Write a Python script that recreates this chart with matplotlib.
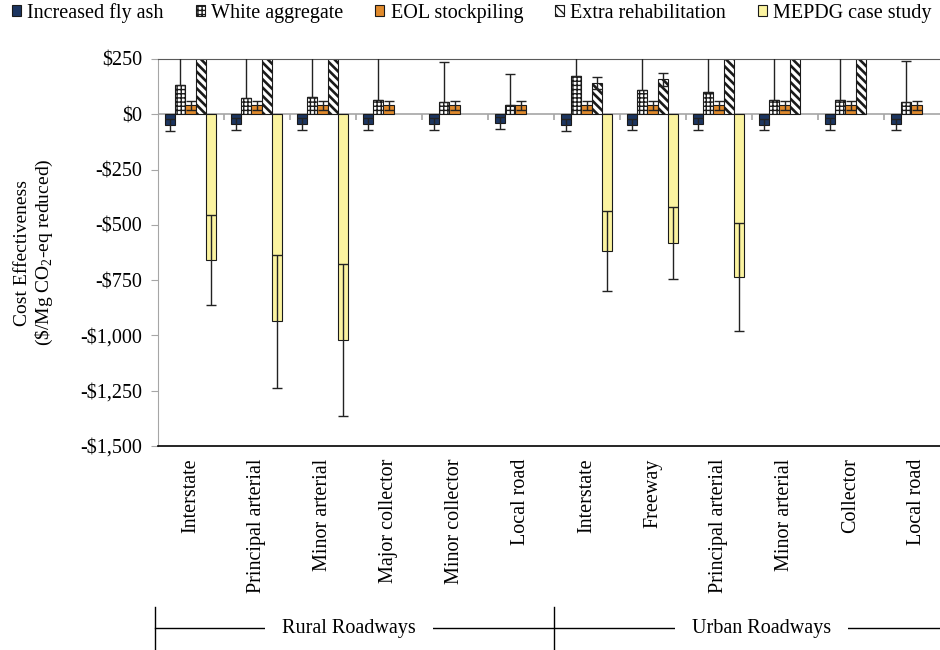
import numpy as np
import matplotlib
matplotlib.use("Agg")
import matplotlib.pyplot as plt
from matplotlib.patches import Patch
from matplotlib.lines import Line2D
from matplotlib.transforms import blended_transform_factory

plt.rcParams['font.family'] = ['Liberation Serif', 'DejaVu Serif']
plt.rcParams['font.size'] = 14.5

nan = np.nan

# road types, rural first then urban
categories = ['Interstate', 'Principal arterial', 'Minor arterial', 'Major collector',
              'Minor collector', 'Local road',
              'Interstate', 'Freeway', 'Principal arterial', 'Minor arterial',
              'Collector', 'Local road']
groups = ['Rural Roadways', 'Urban Roadways']
series = ['Increased fly ash', 'White aggregate', 'EOL stockpiling',
          'Extra rehabilitation', 'MEPDG case study']

# $/Mg CO2-eq reduced (values above $250 are cut off in the figure)
fly_ash = [-48, -46, -45, -45, -45, -39, -48, -47, -45, -47, -45, -46]
fly_ash_err = [27, 27, 26, 27, 26, 27, 27, 25, 28, 26, 26, 25]
white_agg = [134, 72, 80, 66, 54, 44, 171, 108, 99, 66, 66, 54]
white_agg_err = [420, 420, 420, 420, 181, 140, 420, 420, 420, 420, 420, 187]
eol = [41, 41, 41, 41, 41, 41, 41, 41, 41, 41, 41, 41]
eol_err = [20, 20, 20, 20, 20, 20, 20, 20, 20, 20, 20, 20]
extra_rehab = [900, 900, 900, nan, nan, nan, 141, 158, 900, 900, 900, nan]
extra_rehab_err = [150, 150, 150, nan, nan, nan, 28, 30, 150, 150, 150, nan]
mepdg = [-660, -937, -1020, nan, nan, nan, -618, -582, -734, nan, nan, nan]
mepdg_err = [203, 301, 345, nan, nan, nan, 180, 164, 244, nan, nan, nan]

values = [fly_ash, white_agg, eol, extra_rehab, mepdg]
errors = [fly_ash_err, white_agg_err, eol_err, extra_rehab_err, mepdg_err]
# white aggregate only shows the plus side of its error bar
plus_only = [False, True, False, False, False]
colors = ['#1c3560', 'white', '#e08a2c', 'white', '#fbf3a0']
hatches = [None, '++++', None, '\\\\\\\\', None]
hatch_lw = [1.0, 1.0, 1.0, 1.9, 1.0]

fig = plt.figure(figsize=(9.4, 6.5), dpi=100)
ax = fig.add_axes([157.5 / 940, 1 - 446 / 650, 792 / 940, (446 - 59) / 650])

x = np.arange(len(categories))
w = 0.155
step = 0.158
handles = []
for i, (vals, errs) in enumerate(zip(values, errors)):
    pos = x + (i - 2) * step
    with plt.rc_context({'hatch.linewidth': hatch_lw[i]}):
        ax.bar(pos, vals, width=w, color=colors[i], edgecolor='#1a1a1a',
               linewidth=0.8, hatch=hatches[i], zorder=2)
        handles.append(Patch(facecolor=colors[i], edgecolor='#1a1a1a',
                             linewidth=0.8, hatch=hatches[i], label=series[i]))
    errs = np.array(errs, dtype=float)
    if plus_only[i]:
        yerr = [np.zeros_like(errs), errs]
    else:
        yerr = errs
    ax.errorbar(pos, vals, yerr=yerr, fmt='none', ecolor='#222222',
                elinewidth=1, capsize=3.6, capthick=1, zorder=3)

ax.set_xlim(-0.5, len(categories) - 0.5)
ax.set_ylim(-1500, 250)

# zero line with category tick marks
ax.axhline(0, color='#a6a6a6', lw=1.2, zorder=1)
bounds = np.arange(len(categories) + 1) - 0.5
ax.vlines(bounds, -27, 0, color='#a6a6a6', lw=1.2, zorder=1)

yt = np.arange(-1500, 251, 250)
ax.set_yticks(yt)
ax.set_yticklabels([('-' if v < 0 else '') + '${:,}'.format(abs(v)) for v in yt])
ax.tick_params(axis='y', length=5, color='#a6a6a6', pad=6)
ax.set_xticks(x)
ax.set_xticklabels(categories, rotation=90, va='top', ha='center')
ax.tick_params(axis='x', length=0, pad=9)

ax.spines['left'].set_color('#a6a6a6')
ax.spines['top'].set_color('#595959')
ax.spines['right'].set_visible(False)
ax.spines['bottom'].set_color('black')
ax.spines['bottom'].set_linewidth(1.2)

ax.set_ylabel('Cost Effectiveness\n(\\$/Mg CO$_\\mathregular{2}$-eq reduced)',
              fontsize=14, labelpad=18, linespacing=1.2)

# group labels under the category names
tr = blended_transform_factory(ax.transData, fig.transFigure)
y_line = 1 - 628 / 650
x0 = -0.5 - 3 / 66
ax.add_line(Line2D([x0, len(categories) - 0.5], [y_line, y_line], color='black',
                   lw=1, transform=tr, clip_on=False))
for xb in [x0, 5.5, len(categories) - 0.5]:
    ax.add_line(Line2D([xb, xb], [0, 1 - 607 / 650], color='black', lw=1,
                       transform=tr, clip_on=False))
for gx, name in zip([2.4, 8.65], groups):
    ax.text(gx, y_line, name, transform=tr, ha='center', va='center', fontsize=14.5,
            bbox=dict(boxstyle='square,pad=0.85', facecolor='white', edgecolor='none'))

fig.legend(handles=handles, loc='upper left', bbox_to_anchor=(12 / 940, 1 - 3 / 650),
           ncol=5, frameon=False, fontsize=14.5, handlelength=0.45, handleheight=0.45,
           handletextpad=0.3, columnspacing=1.6, borderpad=0, borderaxespad=0)

fig.savefig('out.png', dpi=100)
